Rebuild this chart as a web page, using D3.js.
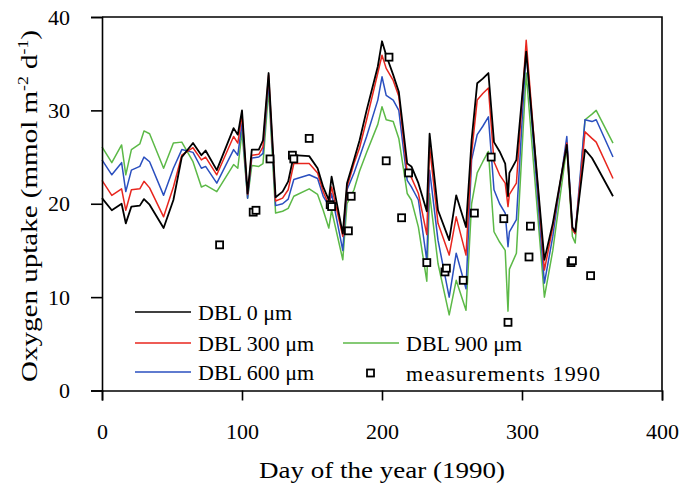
<!DOCTYPE html>
<html>
<head>
<meta charset="utf-8">
<script src="https://cdn.jsdelivr.net/npm/d3@7"></script>
<style>
body{margin:0;background:#fff;}
svg text{font-family:"Liberation Serif","Times New Roman",serif;fill:#000;}
</style>
</head>
<body>
<svg id="chart"></svg>
<script>
//页面大小
var width = 685;
var height = 488;
var padding = {top:17, right:23, bottom:97.5, left:102};
var serif = '"Liberation Serif","Times New Roman",serif';

//模型的日期
var days = [0,7,14,17,21,27,30,34,44,51,57,65,71,74,82,94,97,100,104,107,
	112,115,119,124,129,133,137,148,154,158,162,164,172,175,180,184,189,197,200,203,
	208,212,218,221,226,232,234,240,248,253,260,264,268,272,276,280,284,288,290,291,
	296,303,316,322,332,336,338,345,350,353,365];
//四条曲线
var dbl0 = [20.6,19.3,20.0,17.9,19.7,19.8,20.5,19.9,17.4,20.4,
	25.0,26.5,25.2,25.7,23.6,28.1,27.4,30.0,21.1,25.8,
	25.8,26.8,34.0,20.7,21.3,22.4,25.2,25.1,23.8,21.8,
	20.4,22.9,16.8,22.2,24.7,26.8,30.0,34.7,37.4,35.9,
	33.8,32.0,24.3,24.0,22.2,19.2,27.5,19.3,16.1,20.9,
	17.5,26.8,32.9,33.4,34.0,26.6,25.6,24.3,20.8,23.3,
	24.7,36.3,14.0,17.9,26.3,17.5,17.0,25.8,24.9,24.1,
	20.8];
var dbl300 = [22.5,20.9,21.6,19.3,21.5,21.6,22.4,21.7,18.6,21.8,
	25.2,26.0,24.7,25.0,23.1,27.2,26.5,29.5,21.0,25.2,
	25.3,26.1,33.8,20.3,20.6,21.5,24.3,24.3,23.3,21.3,
	19.9,21.8,16.5,21.8,24.3,26.0,29.0,34.0,35.9,34.5,
	33.2,31.5,23.3,22.8,21.1,16.7,26.1,17.9,14.5,18.6,
	14.5,25.4,31.1,31.8,32.4,24.5,23.1,22.2,19.7,21.0,
	22.2,37.5,12.9,17.5,26.5,17.2,16.8,27.7,27.0,26.6,
	22.7];
var dbl600 = [24.7,23.1,24.4,21.3,23.6,24.0,25.0,24.5,20.9,23.8,
	25.8,25.5,23.8,24.0,22.2,25.8,25.2,28.6,20.6,24.9,
	25.0,25.4,33.1,19.8,20.0,20.5,22.6,23.1,22.7,20.8,
	19.8,21.1,15.0,21.5,23.3,25.0,27.2,31.1,33.6,31.6,
	31.1,30.0,22.5,21.8,20.4,13.9,23.6,16.1,10.0,14.7,
	10.9,24.7,27.4,28.3,29.3,21.5,20.0,19.0,15.4,17.0,
	18.3,36.5,11.5,16.5,27.2,17.3,16.8,29.0,28.8,29.0,
	25.0];
var dbl900 = [26.1,24.4,26.3,23.1,25.8,26.4,27.8,27.5,23.8,26.5,
	26.6,24.5,21.8,22.0,21.3,24.2,23.8,27.7,20.6,24.1,
	24.0,24.3,32.2,19.0,19.2,19.5,20.8,21.6,21.0,19.3,
	17.4,19.3,14.0,20.0,21.5,23.5,25.5,28.5,30.4,29.0,
	28.8,27.0,21.1,20.4,17.5,11.7,21.1,13.6,8.1,11.8,
	8.6,20.0,23.3,24.5,25.6,17.0,15.9,15.0,8.5,13.0,
	14.7,34.0,10.0,15.0,26.1,16.5,15.8,29.0,29.6,30.0,
	26.5];
//1990 测量值
var measDays = [84,108,110,120,136,137,148,163,164,176,178,203,205,214,219,232,245,246,258,266,278,287,290,305,306,335,336,349];
var measValues = [15.6,19.1,19.3,24.8,25.2,24.8,27.0,19.9,19.7,17.1,20.8,24.6,35.7,18.5,23.3,13.7,12.7,13.1,11.8,19.0,25.0,18.4,7.3,14.3,17.6,13.7,13.9,12.3];
//刻度
var xTicks = [0,100,200,300,400];
var yTicks = [0,10,20,30,40];
var seriesNames = ["DBL 0 \u03bcm","DBL 300 \u03bcm","DBL 600 \u03bcm","DBL 900 \u03bcm"];
var seriesColors = ["#000000","#e8261e","#2a4fbf","#5cb947"];

var svg = d3.select("#chart")
	.attr("width", width)
	.attr("height", height)
	.attr("font-family", serif);

var xScale = d3.scaleLinear().domain([0,400]).range([padding.left, width - padding.right]);
var yScale = d3.scaleLinear().domain([0,40]).range([height - padding.bottom, padding.top]);

//曲线
var allSeries = [dbl0, dbl300, dbl600, dbl900];
var linepath = d3.line()
	.x(function(d,i){ return xScale(days[i]); })
	.y(d => yScale(d));
//先画绿色，黑色在最上面
[3,2,1,0].forEach(function(k){
	svg.append("path")
		.datum(allSeries[k])
		.attr("d", linepath)
		.attr("fill","none")
		.attr("stroke", seriesColors[k])
		.attr("stroke-width", k == 0 ? 1.8 : 1.5)
		.attr("stroke-linejoin","round");
});

//测量点
svg.append("g")
	.selectAll("rect")
	.data(measDays)
	.enter()
	.append("rect")
	.attr("x", (d) => xScale(d) - 3.5)
	.attr("y", (d,i) => yScale(measValues[i]) - 3.5)
	.attr("width", 7)
	.attr("height", 7)
	.attr("fill", "#fff")
	.attr("stroke", "#000")
	.attr("stroke-width", 1.8);

//x 轴
var xAxis = d3.axisBottom(xScale).tickValues(xTicks).tickSize(10).tickPadding(23).tickFormat(d3.format("d"));
var gx = svg.append("g")
	.attr("transform","translate(0,"+yScale(0)+")")
	.call(xAxis)
	.attr("font-family", serif);
gx.select(".domain").attr("stroke-width",1.6);
gx.selectAll(".tick line").attr("stroke-width",1.6);
gx.selectAll("text").style("font-size","22px").style("font-family",serif).attr("fill","#000");

//y 轴
var yAxis = d3.axisLeft(yScale).tickValues(yTicks).tickSize(11).tickPadding(21);
var gy = svg.append("g")
	.attr("transform","translate("+xScale(0)+",0)")
	.call(yAxis)
	.attr("font-family", serif);
gy.select(".domain").attr("stroke-width",1.6);
gy.selectAll(".tick line").attr("stroke-width",1.6);
gy.selectAll("text").style("font-size","22px").style("font-family",serif).attr("fill","#000");

//外框
svg.append("path")
	.attr("d","M"+xScale(0)+","+yScale(40)+"H"+xScale(400)+"V"+yScale(0))
	.attr("fill","none")
	.attr("stroke","#000")
	.attr("stroke-width",1.6);

//标题
svg.append("text")
	.attr("x",382)
	.attr("y",478)
	.attr("text-anchor","middle")
	.attr("textLength",246)
	.attr("lengthAdjust","spacingAndGlyphs")
	.style("font-size","23px")
	.text("Day of the year (1990)");

var ytitle = svg.append("text")
	.attr("transform","translate(37,206) rotate(-90)")
	.attr("text-anchor","middle")
	.attr("textLength",352)
	.attr("lengthAdjust","spacingAndGlyphs")
	.style("font-size","23px");
ytitle.append("tspan").text("Oxygen uptake (mmol m");
ytitle.append("tspan").attr("dy",-9).style("font-size","14px").text("-2");
ytitle.append("tspan").attr("dy",9).text(" d");
ytitle.append("tspan").attr("dy",-9).style("font-size","14px").text("-1");
ytitle.append("tspan").attr("dy",9).text(")");

//图例
var legendItems = [
	{name:seriesNames[0], color:seriesColors[0], x:135, y:312, type:"line"},
	{name:seriesNames[1], color:seriesColors[1], x:135, y:343, type:"line"},
	{name:seriesNames[2], color:seriesColors[2], x:135, y:372, type:"line"},
	{name:seriesNames[3], color:seriesColors[3], x:343, y:343, type:"line"},
	{name:"measurements 1990", color:"#000", x:343, y:373, type:"rect"}
];
var legend = svg.append("g").selectAll("g")
	.data(legendItems)
	.enter()
	.append("g")
	.attr("transform", d => "translate("+d.x+","+d.y+")");
legend.filter(d => d.type == "line").append("line")
	.attr("x1",0).attr("x2",56)
	.attr("stroke", d => d.color)
	.attr("stroke-width", 1.6);
legend.filter(d => d.type == "rect").append("rect")
	.attr("x",24).attr("y",-3.5).attr("width",7).attr("height",7)
	.attr("fill","#fff").attr("stroke","#000").attr("stroke-width",1.8);
legend.append("text")
	.attr("x",63)
	.attr("dy","0.35em")
	.style("font-size","22px")
	.style("font-family",serif)
	.text(d => d.name);
//测量值这一行文字略宽
legend.filter(d => d.type == "rect").select("text")
	.attr("textLength",194)
	.attr("lengthAdjust","spacing");
</script>
</body>
</html>
